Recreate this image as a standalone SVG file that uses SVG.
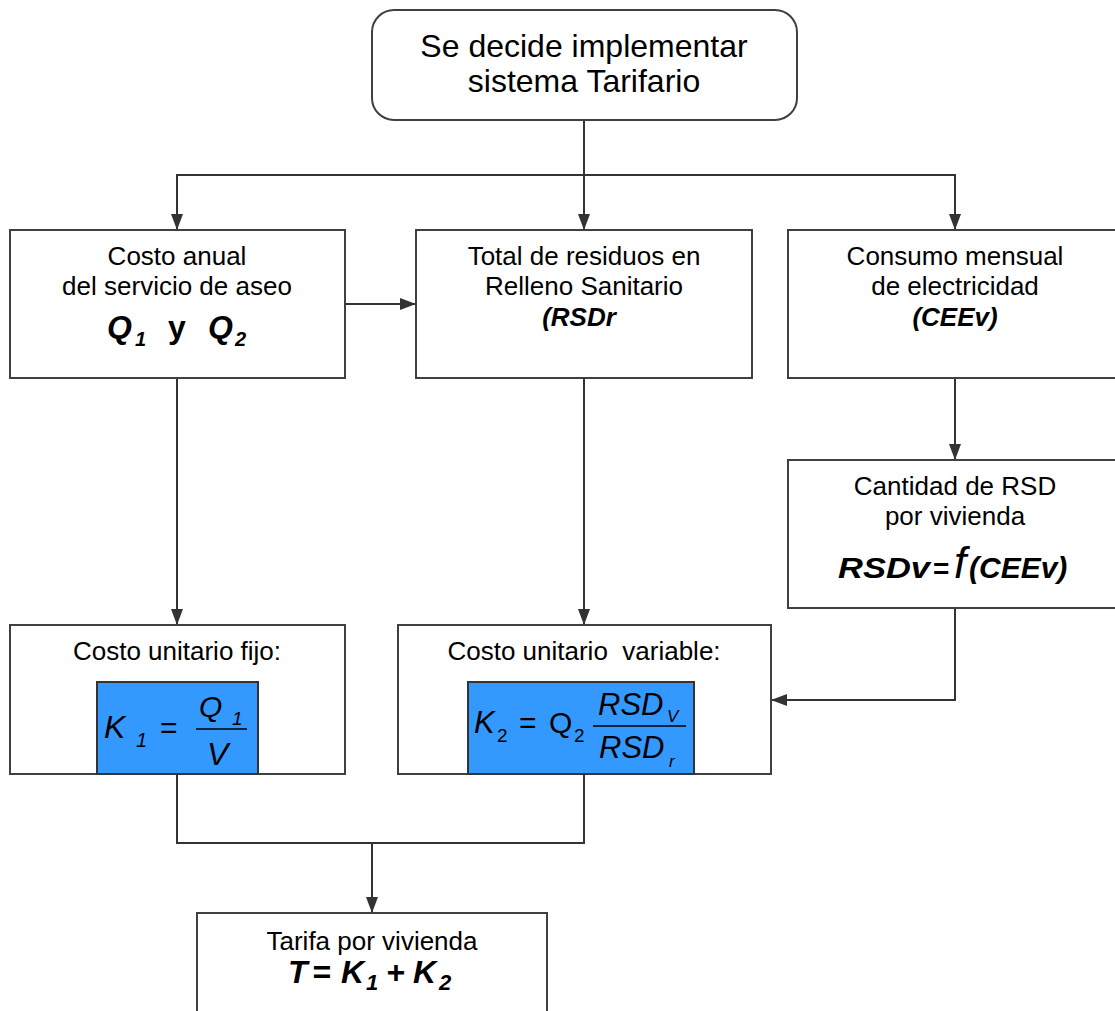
<svg xmlns="http://www.w3.org/2000/svg" width="1115" height="1011" viewBox="0 0 1115 1011">
  <style>
    text { font-family: "Liberation Sans", Arial, sans-serif; fill: #000; }
    .box { fill: #fff; stroke: #404040; stroke-width: 2; }
    .formula { fill: #3399ff; stroke: #333; stroke-width: 2; }
    .lbl { font-size: 26px; text-anchor: middle; }
    .title { font-size: 32px; text-anchor: middle; }
    .bi { font-weight: bold; font-style: italic; }
    .it { font-style: italic; }
    .conn { fill: none; stroke: #333; stroke-width: 2; }
    .bar { stroke: #000; stroke-width: 1.5; }
  </style>
  <defs>
    <marker id="arrow" markerUnits="userSpaceOnUse" viewBox="0 0 16 12" refX="16" refY="6" markerWidth="16" markerHeight="12" orient="auto">
      <path d="M0,0 L16,6 L0,12 z" fill="#333"/>
    </marker>
  </defs>

  <rect width="1115" height="1011" fill="#fff"/>

  <!-- connectors -->
  <g id="connectors">
    <path class="conn" d="M584,120 V230" marker-end="url(#arrow)"/>
    <path class="conn" d="M584,175 H177 V230" marker-end="url(#arrow)"/>
    <path class="conn" d="M584,175 H955 V230" marker-end="url(#arrow)"/>
    <path class="conn" d="M345,304 H416" marker-end="url(#arrow)"/>
    <path class="conn" d="M177,378 V625" marker-end="url(#arrow)"/>
    <path class="conn" d="M584,378 V625" marker-end="url(#arrow)"/>
    <path class="conn" d="M955,378 V460" marker-end="url(#arrow)"/>
    <path class="conn" d="M955,608 V700 H771" marker-end="url(#arrow)"/>
    <path class="conn" d="M177,774 V843 H584 V774"/>
    <path class="conn" d="M372,843 V913" marker-end="url(#arrow)"/>
  </g>

  <!-- start -->
  <g id="node-inicio">
    <rect class="box" x="372" y="10" width="425" height="110" rx="22" ry="22"/>
    <text class="title" x="584" y="57">Se decide implementar</text>
    <text class="title" x="584" y="92">sistema Tarifario</text>
  </g>

  <!-- annual cost -->
  <g id="node-costo-anual">
    <rect class="box" x="10" y="230" width="335" height="148"/>
    <text class="lbl" x="177" y="265">Costo anual</text>
    <text class="lbl" x="177" y="295">del servicio de aseo</text>
    <text class="bi" font-size="32" x="107" y="338">Q</text>
    <text class="bi" font-size="20" x="135" y="346">1</text>
    <text font-weight="bold" font-size="32" x="168" y="338">y</text>
    <text class="bi" font-size="32" x="208" y="338">Q</text>
    <text class="bi" font-size="20" x="235" y="346">2</text>
  </g>

  <!-- total waste -->
  <g id="node-total-residuos">
    <rect class="box" x="416" y="230" width="336" height="148"/>
    <text class="lbl" x="584" y="265">Total de residuos en</text>
    <text class="lbl" x="584" y="295">Relleno Sanitario</text>
    <text class="lbl bi" x="579" y="326">(RSDr</text>
  </g>

  <!-- electricity -->
  <g id="node-consumo">
    <rect class="box" x="788" y="230" width="340" height="148"/>
    <text class="lbl" x="955" y="265">Consumo mensual</text>
    <text class="lbl" x="955" y="295">de electricidad</text>
    <text class="lbl bi" x="955" y="326">(CEEv)</text>
  </g>

  <!-- waste per dwelling -->
  <g id="node-cantidad-rsd">
    <rect class="box" x="788" y="460" width="340" height="148"/>
    <text class="lbl" x="955" y="495">Cantidad de RSD</text>
    <text class="lbl" x="955" y="525">por vivienda</text>
    <text class="bi" font-size="30" x="838" y="578" textLength="92" lengthAdjust="spacingAndGlyphs">RSDv</text>
    <text font-weight="bold" font-size="28" x="933" y="578">=</text>
    <text class="it" font-size="44" x="954" y="578">f</text>
    <text class="bi" font-size="30" x="969" y="578">(CEEv)</text>
  </g>

  <!-- fixed unit cost -->
  <g id="node-costo-fijo">
    <rect class="box" x="10" y="625" width="335" height="149"/>
    <text class="lbl" x="177" y="660">Costo unitario fijo:</text>
    <rect class="formula" x="97" y="682" width="161" height="92"/>
    <text class="it" font-size="32" x="104" y="738">K</text>
    <text class="it" font-size="20" x="136" y="747">1</text>
    <text font-size="30" x="160" y="738">=</text>
    <text class="it" font-size="30" x="199" y="717">Q</text>
    <text class="it" font-size="19" x="232" y="725">1</text>
    <line class="bar" x1="196" y1="729" x2="247" y2="729"/>
    <text class="it" font-size="32" x="207" y="765">V</text>
  </g>

  <!-- variable unit cost -->
  <g id="node-costo-variable">
    <rect class="box" x="398" y="625" width="373" height="149"/>
    <text class="lbl" x="584" y="660" style="white-space:pre">Costo unitario  variable:</text>
    <rect class="formula" x="468" y="682" width="226" height="92"/>
    <text class="it" font-size="31" x="474" y="733">K</text>
    <text font-size="19" x="497" y="742">2</text>
    <text font-size="30" x="519" y="733">=</text>
    <text font-size="30" x="549" y="733">Q</text>
    <text font-size="19" x="574" y="742">2</text>
    <text class="it" font-size="31" x="598" y="715">RSD</text>
    <text class="it" font-size="17" x="667" y="722">V</text>
    <line class="bar" x1="593" y1="726" x2="686" y2="726"/>
    <text class="it" font-size="31" x="599" y="758">RSD</text>
    <text class="it" font-size="17" x="669" y="767">r</text>
  </g>

  <!-- tariff -->
  <g id="node-tarifa">
    <rect class="box" x="197" y="913" width="350" height="110"/>
    <text class="lbl" x="372" y="950">Tarifa por vivienda</text>
    <text class="bi" font-size="32" x="288" y="983">T</text>
    <text class="bi" font-size="32" x="312" y="983">=</text>
    <text class="bi" font-size="32" x="341" y="983">K</text>
    <text class="bi" font-size="22" x="366" y="990">1</text>
    <text class="bi" font-size="32" x="386" y="983">+</text>
    <text class="bi" font-size="32" x="413" y="983">K</text>
    <text class="bi" font-size="22" x="439" y="990">2</text>
  </g>
</svg>
